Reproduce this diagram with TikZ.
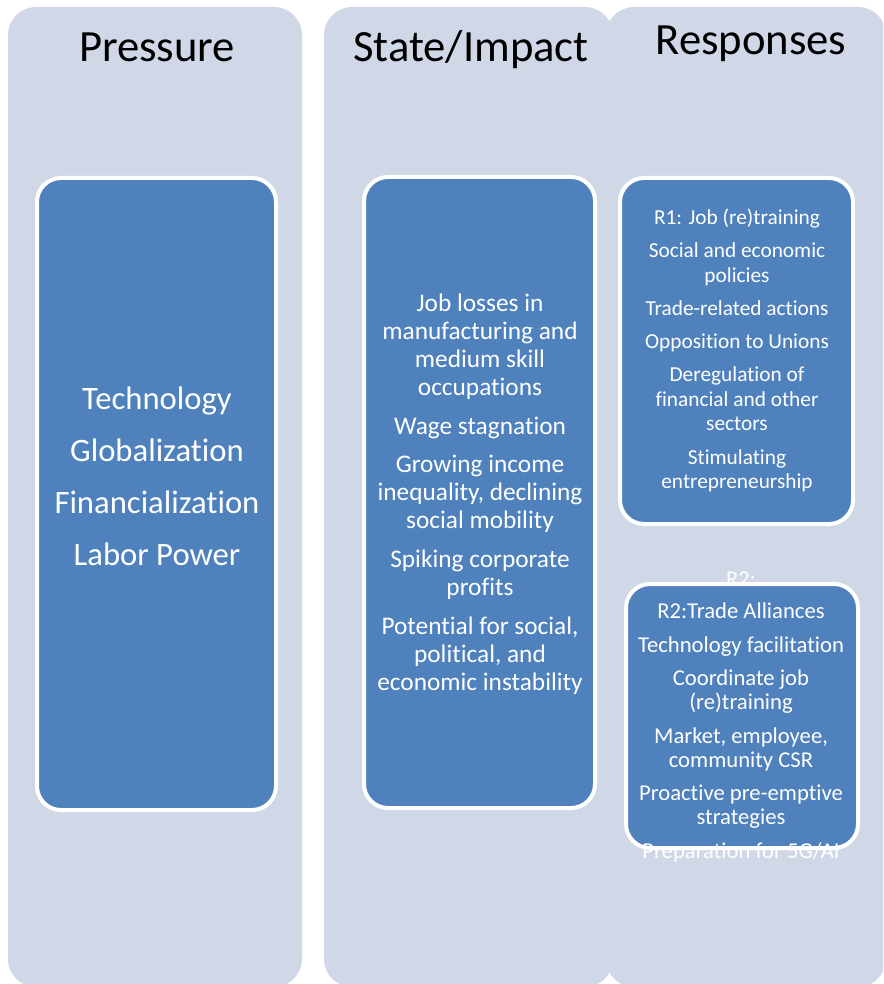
\documentclass[tikz,border=0pt]{standalone}
\usepackage{fontspec}
\setmainfont{Carlito}[Ligatures=NoCommon]
\usetikzlibrary{positioning}
\definecolor{colbg}{RGB}{208,216,232}
\definecolor{boxblue}{RGB}{79,129,189}
\def\px{0.75pt}
\tikzstyle{column}=[rectangle, fill=colbg, rounded corners=21pt, inner sep=0pt]
\tikzstyle{heading}=[anchor=base, font=\fontsize{33.5}{40}\selectfont]
\tikzstyle{inbox}=[rectangle, fill=boxblue, draw=white, line width=3pt, rounded corners=18pt, inner sep=0pt]
\tikzstyle{boxtext}=[text=white, align=center, inner sep=0pt]
\tikzstyle{small text}=[boxtext, font=\fontsize{16}{18.4}\selectfont]

\begin{document}
\begin{tikzpicture}[x=\px, y=-\px]
        \useasboundingbox (0,0) rectangle (883,984);
        \clip (0,0) rectangle (883,984);

		% the three columns
		\node[column, minimum width=294*\px, minimum height=980*\px] (pcol) at (155,497) {};
		\node[column, minimum width=289*\px, minimum height=980*\px] (scol) at (468.5,497) {};
		\node[column, minimum width=280*\px, minimum height=980*\px] (rcol) at (746,497) {};

		\node[heading] (phead) at (157,62) {Pressure};
		\node[heading] (shead) at (471,62) {State/Impact};
		\node[heading] (rhead) at (751,55) {Responses};

		% overflowing line, partly behind R2
		\node[small text, font=\fontsize{17}{18}\selectfont] (r2top) at (741,579) {R2:};

		\node[inbox, minimum width=239*\px, minimum height=632*\px] (pbox) at (156.5,494) {};
		\node[inbox, minimum width=231*\px, minimum height=631*\px] (sbox) at (479.5,492.5) {};
		\node[inbox, minimum width=233*\px, minimum height=346*\px] (r1box) at (736.5,351) {};
		\node[inbox, minimum width=232*\px, minimum height=264*\px] (r2box) at (742,716) {};

		\node[boxtext, font=\fontsize{24.5}{29}\selectfont] (ptext) at (157,476.5)
			{Technology\\[10pt]Globalization\\[10pt]Financialization\\[10pt]Labor Power};
		\node[boxtext, font=\fontsize{19}{21}\selectfont] (stext) at (480,494)
			{Job losses in\\manufacturing and\\medium skill\\occupations\\[8pt]Wage stagnation\\[8pt]Growing income\\inequality, declining\\social mobility\\[8pt]Spiking corporate\\profits\\[8pt]Potential for social,\\political, and\\economic instability};
		\node[small text] (r1text) at (737,350.5)
			{R1: Job (re)training\\[6.5pt]Social and economic\\policies\\[6.5pt]Trade-related actions\\[6.5pt]Opposition to Unions\\[6.5pt]Deregulation of\\financial and other\\sectors\\[6.5pt]Stimulating\\entrepreneurship};
		\node[small text, font=\fontsize{17}{18}\selectfont] (r2text) at (741,732.5)
			{R2:Trade Alliances\\[7.2pt]Technology facilitation\\[7.2pt]Coordinate job\\(re)training\\[7.2pt]Market, employee,\\community CSR\\[7.2pt]Proactive pre-emptive\\strategies\\[7.2pt]Preparation for 5G/AI};
	\end{tikzpicture}
\end{document}
